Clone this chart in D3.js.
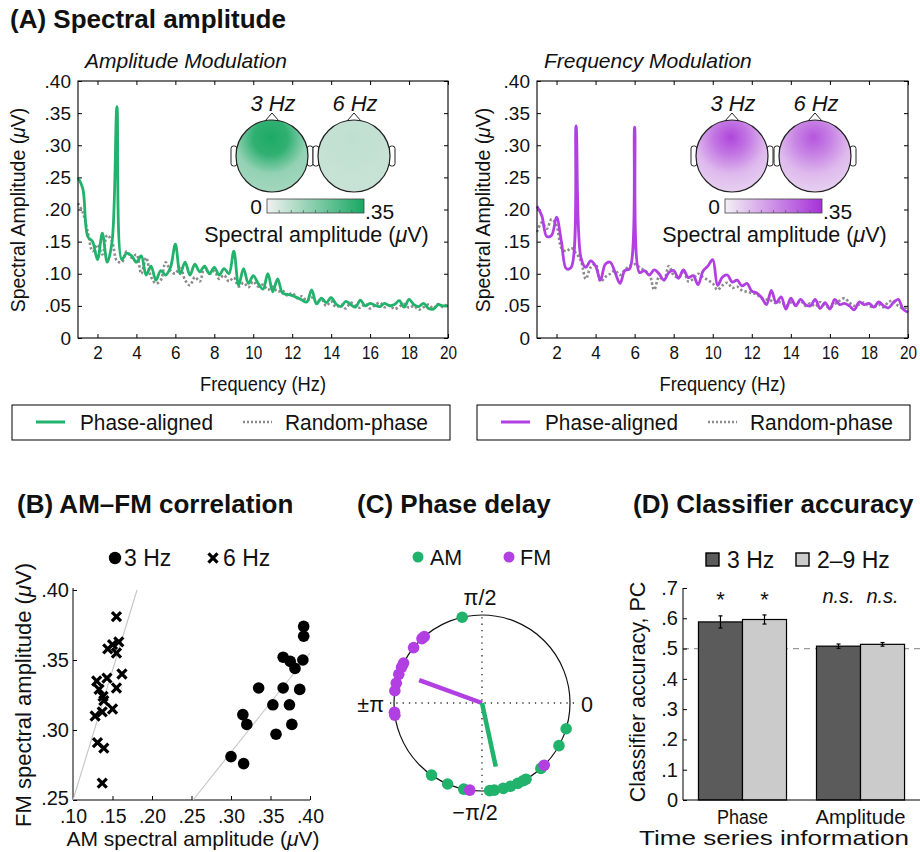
<!DOCTYPE html>
<html>
<head>
<meta charset="utf-8">
<script src="https://cdn.jsdelivr.net/npm/d3@7"></script>
<style>
body { margin: 0; background: #fff; }
text { font-family: "Liberation Sans", Arial, Helvetica, sans-serif; fill: #111; }
</style>
</head>
<body>
<svg id="fig" width="920" height="852"></svg>
<script>
// ---- data ----
var freqs = d3.range(1, 20.001, 0.25);   // 1 .. 20 Hz, 0.25 Hz steps

var am_phase = [.250,.232,.158,.150,.122,.163,.118,.150,.360,.122,.132,.128,.118,.128,.098,.112,
  .090,.105,.098,.110,.146,.100,.118,.098,.115,.103,.112,.100,.110,.098,.108,.100,
  .135,.082,.108,.085,.097,.085,.076,.100,.072,.092,.070,.068,.066,.063,.059,.056,
  .075,.053,.062,.055,.063,.053,.049,.057,.052,.048,.059,.050,.054,.051,.049,.054,
  .050,.052,.058,.048,.060,.052,.049,.054,.046,.045,.052,.050,.050];
var am_random = [.210,.195,.165,.135,.145,.130,.160,.150,.120,.118,.135,.125,.130,.100,.125,.095,
  .085,.090,.118,.105,.100,.112,.090,.082,.095,.088,.110,.100,.104,.092,.098,.088,
  .094,.080,.086,.079,.088,.080,.083,.075,.080,.072,.074,.066,.070,.062,.065,.058,
  .063,.056,.060,.050,.057,.048,.052,.046,.055,.050,.047,.053,.046,.051,.055,.048,
  .051,.045,.049,.053,.047,.050,.044,.048,.052,.046,.053,.048,.055];
var fm_phase = [.205,.190,.158,.160,.188,.150,.108,.110,.330,.125,.110,.120,.112,.090,.115,.118,
  .102,.085,.105,.108,.328,.102,.105,.098,.106,.100,.090,.102,.105,.093,.106,.094,
  .097,.083,.104,.112,.122,.082,.095,.098,.087,.090,.081,.085,.073,.070,.063,.052,
  .074,.055,.064,.045,.062,.050,.060,.052,.050,.060,.046,.055,.045,.060,.052,.054,
  .050,.044,.056,.052,.054,.048,.056,.050,.047,.055,.060,.045,.040];
var fm_random = [.165,.180,.170,.185,.175,.140,.135,.140,.132,.120,.092,.110,.115,.088,.095,.100,
  .105,.098,.106,.112,.115,.110,.105,.100,.075,.095,.090,.112,.098,.094,.105,.088,
  .092,.100,.095,.090,.085,.075,.082,.086,.078,.080,.074,.072,.070,.068,.062,.060,
  .058,.054,.056,.050,.055,.052,.058,.050,.054,.049,.056,.050,.048,.053,.058,.062,
  .055,.050,.052,.055,.050,.048,.052,.048,.056,.058,.050,.046,.048];

var spec_yticks = [0, .05, .10, .15, .20, .25, .30, .35, .40];
var spec_xticks = [2, 4, 6, 8, 10, 12, 14, 16, 18, 20];
var topo_labels = ["3 Hz", "6 Hz"];
// topography values (peak, upper, lower, edge) in microvolts
var topo_am = [[.34, .31, .15, .12], [.08, .075, .07, .065]];
var topo_fm = [[.31, .22, .10, .05], [.28, .20, .10, .05]];
var topo_max = .35;

// (B) AM-FM correlation: [AM, FM]
var corr_3hz = [[.300,.281],[.316,.276],[.315,.311],[.320,.304],[.335,.330],[.353,.318],[.357,.297],
  [.366,.330],[.366,.352],[.374,.318],[.377,.304],[.375,.349],[.381,.344],[.387,.329],
  [.391,.350],[.392,.374],[.392,.367]];
var corr_6hz = [[.155,.381],[.144,.358],[.150,.361],[.158,.363],[.155,.355],[.162,.340],[.155,.330],
  [.143,.337],[.130,.335],[.133,.329],[.138,.324],[.139,.321],[.137,.313],[.150,.315],
  [.128,.310],[.131,.291],[.139,.287],[.137,.262]];
var fit_3hz = [[.252, .25], [.40, .355]];
var fit_6hz = [[.10, .25], [.181, .40]];
var corr_xticks = [.10, .15, .20, .25, .30, .35, .40];
var corr_yticks = [.25, .30, .35, .40];

// (C) phase delay, degrees
var phase_am = [103, -17, -29, -48, -125, -113, -102, -85, -82, -76, -71, -66, -62, -60];
var phase_fm = [131, 133, 141, 153, 156, 161, 167, 172, -174, -172, -45, -98];
var mean_am = [-77.8, .74];   // angle, resultant length
var mean_fm = [160, .76];

// (D) classifier accuracy
var clf_groups = ["Phase", "Amplitude"];
var clf_bands = ["3 Hz", "2–9 Hz"];
var clf_mean = [[.588, .596], [.508, .514]];
var clf_err = [[.020, .015], [.007, .006]];
var clf_sig = [["*", "*"], ["n.s.", "n.s."]];
var clf_yticks = [0, .1, .2, .3, .4, .5, .6, .7];
var chance = .5;

// ---- drawing ----
var svg = d3.select("#fig");
var defs = svg.append("defs");
var green = "#21b26c", purple = "#b13fe2", dotgray = "#8c8c8c";

svg.append("rect").attr("width", 920).attr("height", 852).attr("fill", "#fff");

function dec(d, n) {
    if (d === 0) return "0";
    return d3.format("." + n + "f")(d).replace(/^0/, "");
}

function mu_text(g, x, y, before, rotate, size) {
    var t = g.append("text").attr("text-anchor", "middle").attr("font-size", size);
    if (rotate) t.attr("transform", "translate(" + x + "," + y + ") rotate(-90)");
    else t.attr("x", x).attr("y", y);
    t.append("tspan").text(before);
    t.append("tspan").attr("font-style", "italic").text("μ");
    t.append("tspan").text("V)");
    return t;
}

function title(x, y, txt) {
    svg.append("text").attr("x", x).attr("y", y).attr("font-size", 26)
        .attr("font-weight", "bold").text(txt);
}

function style_axis(a, size) {
    a.select(".domain").remove();
    a.selectAll("line").attr("stroke", "#000");
    a.selectAll("text").attr("font-size", size).attr("fill", "#111").attr("font-family", null);
}

// squeeze a label to the width it has in the figure
function squeeze(t, w) {
    t.attr("textLength", w).attr("lengthAdjust", "spacingAndGlyphs");
    return t;
}

function head(g, cx, cy, r, fill) {
    g.append("path")
        .attr("d", "M" + (cx - 7) + "," + (cy - r + 1) + "L" + cx + "," + (cy - r - 7) + "L" + (cx + 7) + "," + (cy - r + 1))
        .attr("fill", "#fff").attr("stroke", "#222").attr("stroke-width", 1);
    [-1, 1].forEach(function(s) {
        g.append("rect")
            .attr("x", s < 0 ? cx - r - 5 : cx + r - 1).attr("y", cy - 10)
            .attr("width", 6).attr("height", 20).attr("rx", 2.5)
            .attr("fill", "#fff").attr("stroke", "#222").attr("stroke-width", 1);
    });
    g.append("circle").attr("cx", cx).attr("cy", cy).attr("r", r)
        .attr("fill", fill).attr("stroke", "#222").attr("stroke-width", 1.2);
}

function spectrum_panel(o) {
    var x = d3.scaleLinear().domain([1, 20]).range([o.left, o.right]);
    var y = d3.scaleLinear().domain([0, .40]).range([338, 81]);
    var g = svg.append("g");

    g.append("text").attr("x", o.left + 7).attr("y", 68).attr("font-size", 21)
        .attr("font-style", "italic").text(o.name);

    var xa = g.append("g").attr("transform", "translate(0,338)")
        .call(d3.axisBottom(x).tickValues(spec_xticks).tickSizeInner(-4).tickSizeOuter(0).tickPadding(8));
    style_axis(xa, 19);
    xa.selectAll("text").each(function(d) { squeeze(d3.select(this), d < 10 ? 9.5 : 17); });
    var xt = g.append("g").attr("transform", "translate(0,81)")
        .call(d3.axisTop(x).tickValues(spec_xticks).tickSizeInner(-4).tickSizeOuter(0).tickFormat(""));
    style_axis(xt, 1);
    var ya = g.append("g").attr("transform", "translate(" + o.left + ",0)")
        .call(d3.axisLeft(y).tickValues(spec_yticks).tickSizeInner(-4).tickSizeOuter(0).tickPadding(7)
            .tickFormat(function(d) { return dec(d, 2); }));
    style_axis(ya, 19);
    var yr = g.append("g").attr("transform", "translate(" + o.right + ",0)")
        .call(d3.axisRight(y).tickValues(spec_yticks).tickSizeInner(-4).tickSizeOuter(0).tickFormat(""));
    style_axis(yr, 1);

    var line = d3.line()
        .x(function(d) { return x(d[0]); })
        .y(function(d) { return y(d[1]); })
        .curve(d3.curveCatmullRom.alpha(0.5));

    g.append("path").datum(freqs.map(function(f, i) { return [f, o.random[i]]; }))
        .attr("d", line).attr("fill", "none").attr("stroke", dotgray)
        .attr("stroke-width", 2.6).attr("stroke-dasharray", "2.4,2.2");
    g.append("path").datum(freqs.map(function(f, i) { return [f, o.phase[i]]; }))
        .attr("d", line).attr("fill", "none").attr("stroke", o.color)
        .attr("stroke-width", 2.8).attr("stroke-linejoin", "round");

    g.append("rect").attr("x", o.left).attr("y", 81)
        .attr("width", o.right - o.left).attr("height", 257)
        .attr("fill", "none").attr("stroke", "#000").attr("stroke-width", 1.1);

    mu_text(g, o.ylab, 210, "Spectral Amplitude (", true, 19.5);
    squeeze(g.append("text").attr("x", (o.left + o.right) / 2).attr("y", 391)
        .attr("text-anchor", "middle").attr("font-size", 21).text("Frequency (Hz)"), 126);

    // topographies
    var col = d3.scaleLinear().domain([0, topo_max]).range(o.ramp);
    o.topo.forEach(function(v, k) {
        var id = o.id + "_topo" + k;
        var rg = defs.append("radialGradient").attr("id", id)
            .attr("cx", "48%").attr("cy", "26%").attr("r", "80%").attr("fx", "48%").attr("fy", "24%");
        rg.append("stop").attr("offset", "0%").attr("stop-color", col(v[0]));
        rg.append("stop").attr("offset", "30%").attr("stop-color", col(v[1]));
        rg.append("stop").attr("offset", "62%").attr("stop-color", col(v[2]));
        rg.append("stop").attr("offset", "100%").attr("stop-color", col(v[3]));
        var cx = o.heads[k];
        head(g, cx, 156, 36, "url(#" + id + ")");
        g.append("text").attr("x", cx + 1).attr("y", 111).attr("text-anchor", "middle")
            .attr("font-size", 22).attr("font-style", "italic").text(topo_labels[k]);
    });
    var cb = d3.scaleLinear().domain([0, topo_max]).range([o.cb, o.cb + 97]);
    var lg = defs.append("linearGradient").attr("id", o.id + "_cb");
    lg.append("stop").attr("offset", "0%").attr("stop-color", col(0));
    lg.append("stop").attr("offset", "100%").attr("stop-color", col(topo_max));
    g.append("rect").attr("x", cb(0)).attr("y", 199).attr("width", cb(topo_max) - cb(0)).attr("height", 14)
        .attr("fill", "url(#" + o.id + "_cb)").attr("stroke", "#444").attr("stroke-width", 0.8);
    g.selectAll(".cbt").data(d3.range(1, 8).map(function(i) { return i * topo_max / 8; }))
        .enter().append("line")
        .attr("x1", function(d) { return cb(d); }).attr("x2", function(d) { return cb(d); })
        .attr("y1", 213).attr("y2", 210).attr("stroke", "#555").attr("stroke-width", 0.7);
    g.append("text").attr("x", cb(0) - 5).attr("y", 214).attr("text-anchor", "end")
        .attr("font-size", 21).text("0");
    g.append("text").attr("x", cb(topo_max) + 1).attr("y", 219).attr("font-size", 21).text(dec(topo_max, 2));
    mu_text(g, cb(topo_max / 2) + 1, 242, "Spectral amplitude (", false, 21.5);

    // legend
    var lx = o.legend;
    g.append("rect").attr("x", lx).attr("y", 405).attr("width", o.right + 2 - lx).attr("height", 35)
        .attr("fill", "#fff").attr("stroke", "#000").attr("stroke-width", 1);
    g.append("line").attr("x1", lx + 24).attr("x2", lx + 53).attr("y1", 422).attr("y2", 422)
        .attr("stroke", o.color).attr("stroke-width", 3);
    squeeze(g.append("text").attr("x", lx + 68).attr("y", 430).attr("font-size", 22)
        .text("Phase-aligned"), 133);
    g.append("line").attr("x1", lx + 231).attr("x2", lx + 260).attr("y1", 422).attr("y2", 422)
        .attr("stroke", dotgray).attr("stroke-width", 2.6).attr("stroke-dasharray", "2,2");
    squeeze(g.append("text").attr("x", lx + 273).attr("y", 430).attr("font-size", 22)
        .text("Random-phase"), 143);
}

title(10, 28, "(A) Spectral amplitude");
spectrum_panel({id: "am", name: "Amplitude Modulation", left: 78, right: 448, ylab: 25,
    phase: am_phase, random: am_random, color: green, ramp: ["#f1f1f1", "#17a862"],
    topo: topo_am, heads: [272, 354], cb: 267, legend: 12});
spectrum_panel({id: "fm", name: "Frequency Modulation", left: 537, right: 908, ylab: 490,
    phase: fm_phase, random: fm_random, color: purple, ramp: ["#f4f0f5", "#a630d8"],
    topo: topo_fm, heads: [732, 815], cb: 725, legend: 477});

// ---- (B) AM-FM correlation ----
title(17, 513, "(B) AM–FM correlation");
(function() {
    var g = svg.append("g");
    var x = d3.scaleLinear().domain([.10, .40]).range([73, 310]);
    var y = d3.scaleLinear().domain([.25, .40]).range([800, 590]);
    var xa = g.append("g").attr("transform", "translate(0,800)")
        .call(d3.axisBottom(x).tickValues(corr_xticks).tickSizeInner(-4).tickSizeOuter(0).tickPadding(9)
            .tickFormat(function(d) { return dec(d, 2); }));
    style_axis(xa, 19.5);
    var ya = g.append("g").attr("transform", "translate(73,0)")
        .call(d3.axisLeft(y).tickValues(corr_yticks).tickSizeInner(-4).tickSizeOuter(0).tickPadding(4)
            .tickFormat(function(d) { return dec(d, 2); }));
    style_axis(ya, 20);
    ya.selectAll("text").attr("dy", function(d) { return d === .25 ? "0.2em" : "0.32em"; });
    g.append("line").attr("x1", 73).attr("x2", 310).attr("y1", 800).attr("y2", 800).attr("stroke", "#000");
    g.append("line").attr("x1", 73).attr("x2", 73).attr("y1", 588).attr("y2", 800).attr("stroke", "#000");

    [fit_3hz, fit_6hz].forEach(function(f) {
        g.append("line").attr("x1", x(f[0][0])).attr("y1", y(f[0][1]))
            .attr("x2", x(f[1][0])).attr("y2", y(f[1][1]))
            .attr("stroke", "#c8c8c8").attr("stroke-width", 1.2);
    });
    var cross = d3.symbol().type(d3.symbolX).size(55);
    g.selectAll(".c6").data(corr_6hz).enter().append("path")
        .attr("transform", function(d) { return "translate(" + x(d[0]) + "," + y(d[1]) + ")"; })
        .attr("d", cross).attr("fill", "none").attr("stroke", "#000").attr("stroke-width", 3.2);
    g.selectAll(".c3").data(corr_3hz).enter().append("circle")
        .attr("cx", function(d) { return x(d[0]); }).attr("cy", function(d) { return y(d[1]); })
        .attr("r", 5.8).attr("fill", "#000");

    g.append("circle").attr("cx", 115).attr("cy", 558).attr("r", 6.2).attr("fill", "#000");
    g.append("text").attr("x", 124).attr("y", 566).attr("font-size", 23).text("3 Hz");
    g.append("path").attr("transform", "translate(213,558)").attr("d", cross)
        .attr("fill", "none").attr("stroke", "#000").attr("stroke-width", 3.2);
    g.append("text").attr("x", 223).attr("y", 566).attr("font-size", 23).text("6 Hz");

    mu_text(g, 31, 695, "FM spectral amplitude (", true, 22);
    mu_text(g, 193, 846, "AM spectral amplitude (", false, 21);
})();

// ---- (C) Phase delay ----
title(357, 513, "(C) Phase delay");
(function() {
    var g = svg.append("g");
    var cx = 482, cy = 703;
    var r = d3.scaleLinear().domain([0, 1]).range([0, 88]);
    function px(a, l) { return cx + r(l) * Math.cos(a * Math.PI / 180); }
    function py(a, l) { return cy - r(l) * Math.sin(a * Math.PI / 180); }

    g.append("line").attr("x1", cx - 92).attr("x2", cx + 96).attr("y1", cy).attr("y2", cy)
        .attr("stroke", "#333").attr("stroke-width", 1.4).attr("stroke-dasharray", "1.3,5");
    g.append("line").attr("x1", cx).attr("x2", cx).attr("y1", cy - 92).attr("y2", cy + 94)
        .attr("stroke", "#333").attr("stroke-width", 1.4).attr("stroke-dasharray", "1.3,5");
    g.append("circle").attr("cx", cx).attr("cy", cy).attr("r", r(1))
        .attr("fill", "none").attr("stroke", "#111").attr("stroke-width", 1.2);

    g.append("text").attr("x", cx - 2).attr("y", 605).attr("text-anchor", "middle").attr("font-size", 21.5).text("π/2");
    g.append("text").attr("x", cx + 99).attr("y", 712).attr("font-size", 21.5).text("0");
    g.append("text").attr("x", cx - 98).attr("y", 712).attr("text-anchor", "end").attr("font-size", 21.5).text("±π");
    g.append("text").attr("x", cx - 7).attr("y", 820).attr("text-anchor", "middle").attr("font-size", 21.5).text("−π/2");

    g.selectAll(".pa").data(phase_am).enter().append("circle")
        .attr("cx", function(d) { return px(d, 1); }).attr("cy", function(d) { return py(d, 1); })
        .attr("r", 5.8).attr("fill", green);
    g.selectAll(".pf").data(phase_fm).enter().append("circle")
        .attr("cx", function(d) { return px(d, 1); }).attr("cy", function(d) { return py(d, 1); })
        .attr("r", 5.8).attr("fill", purple);

    [[mean_fm, purple], [mean_am, green]].forEach(function(m) {
        g.append("line").attr("x1", cx).attr("y1", cy)
            .attr("x2", px(m[0][0], m[0][1])).attr("y2", py(m[0][0], m[0][1]))
            .attr("stroke", m[1]).attr("stroke-width", 4.5);
    });

    g.append("circle").attr("cx", 418).attr("cy", 557).attr("r", 5.5).attr("fill", green);
    g.append("text").attr("x", 430).attr("y", 565).attr("font-size", 21.5).text("AM");
    g.append("circle").attr("cx", 509).attr("cy", 557).attr("r", 5.5).attr("fill", purple);
    g.append("text").attr("x", 520).attr("y", 565).attr("font-size", 21.5).text("FM");
})();

// ---- (D) Classifier accuracy ----
title(633, 513, "(D) Classifier accuracy");
(function() {
    var g = svg.append("g");
    var fills = ["#5b5b5b", "#cbcbcb"];
    var y = d3.scaleLinear().domain([0, .7]).range([800, 588]);
    var x0 = d3.scaleBand().domain(clf_groups).range([683, 920]).paddingInner(0.254).paddingOuter(0.131);
    var x1 = d3.scaleBand().domain(clf_bands).range([0, x0.bandwidth()]);

    g.append("line").attr("x1", 683).attr("x2", 920).attr("y1", y(chance)).attr("y2", y(chance))
        .attr("stroke", "#9a9a9a").attr("stroke-width", 1.3).attr("stroke-dasharray", "6,5");

    clf_groups.forEach(function(grp, i) {
        clf_bands.forEach(function(b, j) {
            var bx = x0(grp) + x1(b), bw = x1.bandwidth(), m = clf_mean[i][j], e = clf_err[i][j];
            g.append("rect").attr("x", bx).attr("y", y(m)).attr("width", bw).attr("height", y(0) - y(m))
                .attr("fill", fills[j]).attr("stroke", "#000").attr("stroke-width", 1.2);
            var c = bx + bw / 2;
            g.append("line").attr("x1", c).attr("x2", c).attr("y1", y(m + e)).attr("y2", y(m - e))
                .attr("stroke", "#000").attr("stroke-width", 1.2);
            [m + e, m - e].forEach(function(v) {
                g.append("line").attr("x1", c - 2).attr("x2", c + 2).attr("y1", y(v)).attr("y2", y(v))
                    .attr("stroke", "#000").attr("stroke-width", 1.2);
            });
            var s = clf_sig[i][j];
            g.append("text").attr("x", c).attr("y", s === "*" ? 607 : 603).attr("text-anchor", "middle")
                .attr("font-size", s === "*" ? 22 : 20).attr("font-style", s === "*" ? null : "italic")
                .text(s);
        });
    });

    var ya = g.append("g").attr("transform", "translate(683,0)")
        .call(d3.axisLeft(y).tickValues(clf_yticks).tickSizeInner(-4).tickSizeOuter(0).tickPadding(5)
            .tickFormat(function(d) { return dec(d, 1); }));
    style_axis(ya, 20);
    g.append("line").attr("x1", 683).attr("x2", 683).attr("y1", 588).attr("y2", 800).attr("stroke", "#000");
    g.append("line").attr("x1", 683).attr("x2", 920).attr("y1", 800).attr("y2", 800).attr("stroke", "#000");

    clf_groups.forEach(function(grp, i) {
        squeeze(g.append("text").attr("x", x0(grp) + x0.bandwidth() / 2).attr("y", 824)
            .attr("text-anchor", "middle").attr("font-size", 20).text(grp), [51, 90][i]);
    });
    squeeze(g.append("text").attr("x", 774).attr("y", 845).attr("text-anchor", "middle")
        .attr("font-size", 21).text("Time series information"), 270);
    g.append("text").attr("transform", "translate(645,692) rotate(-90)").attr("text-anchor", "middle")
        .attr("font-size", 21.5).text("Classifier accuracy, PC");

    clf_bands.forEach(function(b, j) {
        var lx = [706, 796][j];
        g.append("rect").attr("x", lx).attr("y", 553).attr("width", 13).attr("height", 13)
            .attr("fill", fills[j]).attr("stroke", "#000").attr("stroke-width", 1.4);
        g.append("text").attr("x", lx + 21).attr("y", 568).attr("font-size", 23).text(b);
    });
})();
</script>
</body>
</html>
